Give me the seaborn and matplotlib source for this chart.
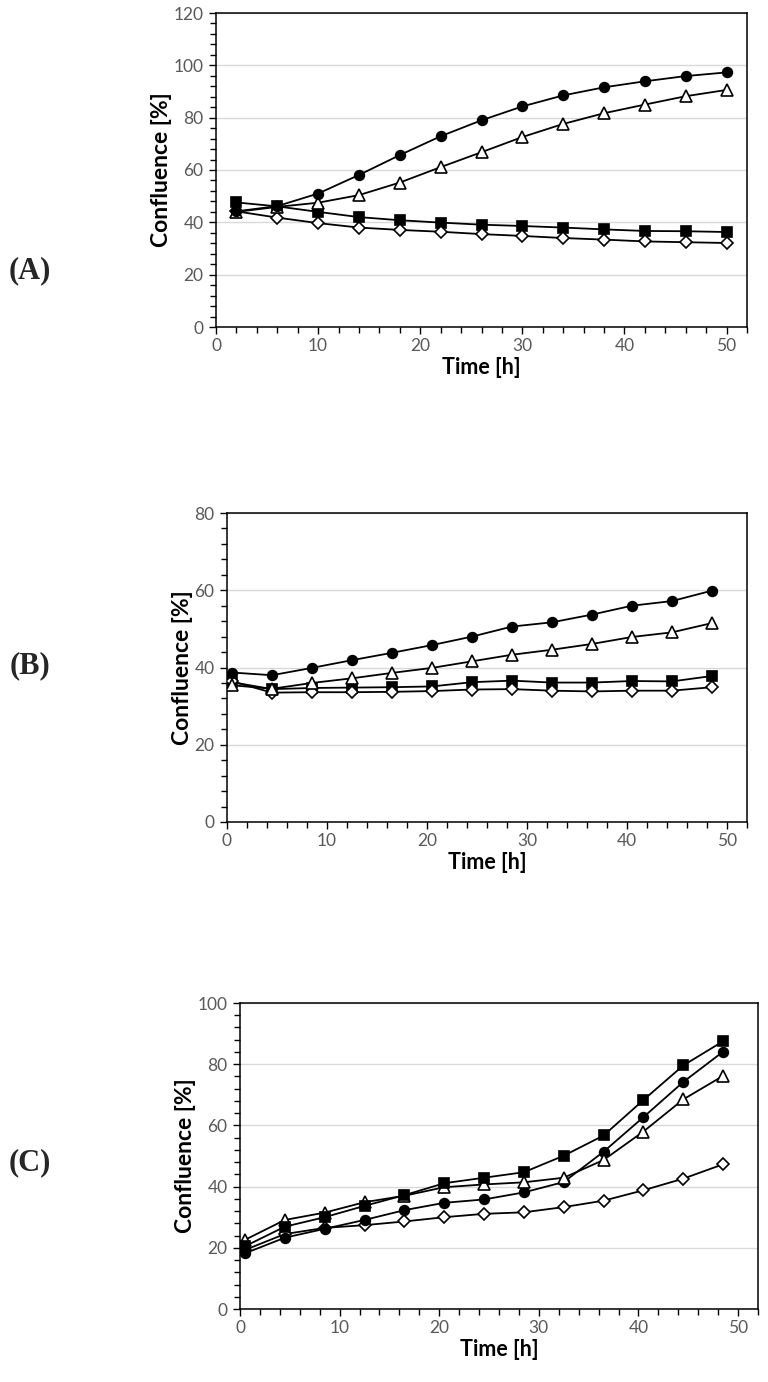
import numpy as np
import pandas as pd
import matplotlib
matplotlib.use("Agg")
import matplotlib.pyplot as plt
import seaborn as sns
from matplotlib.ticker import MultipleLocator

sns.set_theme(style="white")
plt.rcParams['font.family'] = ['Lato', 'DejaVu Sans']

# ---------------- data ----------------
time_A = [2, 6, 10, 14, 18, 22, 26, 30, 34, 38, 42, 46, 50]
A_circle = [44.2, 46.2, 51.0, 58.1, 65.7, 72.9, 79.0, 84.3, 88.5, 91.6, 93.9, 95.9, 97.3]
A_triangle = [44.0, 45.9, 47.5, 50.4, 55.2, 61.1, 66.8, 72.6, 77.6, 81.7, 85.0, 88.2, 90.6]
A_square = [47.6, 46.1, 44.0, 42.0, 40.8, 39.9, 39.1, 38.6, 38.0, 37.3, 36.7, 36.6, 36.3]
A_diamond = [44.2, 41.8, 39.7, 38.0, 37.1, 36.4, 35.5, 34.8, 34.0, 33.4, 32.7, 32.4, 32.1]

time_B = [0.5, 4.5, 8.5, 12.5, 16.5, 20.5, 24.5, 28.5, 32.5, 36.5, 40.5, 44.5, 48.5]
B_circle = [38.7, 38.0, 39.9, 41.9, 43.8, 45.8, 48.0, 50.6, 51.7, 53.7, 56.0, 57.2, 59.9]
B_triangle = [35.4, 34.5, 36.0, 37.2, 38.6, 39.9, 41.6, 43.3, 44.6, 46.1, 47.9, 49.1, 51.5]
B_square = [36.2, 34.4, 34.7, 34.8, 34.9, 35.1, 36.2, 36.6, 36.1, 36.1, 36.5, 36.4, 37.8]
B_diamond = [36.4, 33.5, 33.6, 33.6, 33.7, 33.9, 34.3, 34.4, 34.0, 33.8, 34.0, 34.0, 34.9]

time_C = [0.5, 4.5, 8.5, 12.5, 16.5, 20.5, 24.5, 28.5, 32.5, 36.5, 40.5, 44.5, 48.5]
C_square = [20.5, 26.9, 30.0, 33.7, 37.2, 41.1, 42.9, 44.7, 50.1, 56.7, 68.3, 79.6, 87.5]
C_circle = [18.2, 23.3, 26.2, 29.1, 32.3, 34.7, 35.8, 38.1, 41.5, 51.4, 62.7, 74.2, 84.1]
C_triangle = [22.6, 29.1, 31.5, 34.9, 37.0, 39.8, 40.7, 41.4, 42.9, 48.7, 58.0, 68.5, 76.2]
C_diamond = [19.3, 24.5, 26.5, 27.4, 28.6, 30.0, 31.1, 31.6, 33.3, 35.4, 38.8, 42.6, 47.3]

panel_labels = ["(A)", "(B)", "(C)"]
x_label = "Time [h]"
y_label = "Confluence [%]"
y_max = [120, 80, 100]

# ---------------- figure ----------------
W, H = 768, 1382
fig = plt.figure(figsize=(W / 100, H / 100), dpi=100)

def px_axes(left, right, top, bottom):
    return fig.add_axes([left / W, 1 - bottom / H, (right - left) / W, (bottom - top) / H])

boxes = [(216, 747, 13, 327), (227, 747, 513, 822), (240, 758, 1003, 1309)]
label_y = [271, 666, 1163]

styles = {
    "square": dict(marker="s", markerfacecolor="black", markersize=6.8),
    "circle": dict(marker="o", markerfacecolor="black", markersize=7.0),
    "triangle": dict(marker="^", markerfacecolor="white", markersize=9.0),
    "diamond": dict(marker="D", markerfacecolor="white", markersize=6.0),
}

panels = [
    (time_A, [("square", A_square), ("diamond", A_diamond), ("triangle", A_triangle), ("circle", A_circle)]),
    (time_B, [("square", B_square), ("diamond", B_diamond), ("triangle", B_triangle), ("circle", B_circle)]),
    (time_C, [("diamond", C_diamond), ("circle", C_circle), ("triangle", C_triangle), ("square", C_square)]),
]

grey = "#595959"
for i, (box, (tx, series)) in enumerate(zip(boxes, panels)):
    ax = px_axes(*box)
    for name, vals in series:
        df = pd.DataFrame({"t": tx, "v": vals})
        st = styles[name]
        sns.lineplot(data=df, x="t", y="v", ax=ax, color="black", linewidth=1.3,
                     sort=False, errorbar=None, marker=st["marker"],
                     markersize=st["markersize"], markerfacecolor=st["markerfacecolor"],
                     markeredgecolor="black", markeredgewidth=1.2, zorder=3)
    ax.set_xlim(0, 52)
    ax.set_ylim(0, y_max[i])
    ax.xaxis.set_major_locator(MultipleLocator(10))
    ax.xaxis.set_minor_locator(MultipleLocator(2))
    ax.yaxis.set_major_locator(MultipleLocator(20))
    ax.yaxis.set_minor_locator(MultipleLocator(4))
    ax.grid(axis="y", which="major", color="#d9d9d9", linewidth=1.0, zorder=0)
    ax.set_axisbelow(True)
    for sp in ax.spines.values():
        sp.set_visible(True)
        sp.set_color("black")
        sp.set_linewidth(1.1)
    ax.tick_params(axis="both", which="major", direction="out", length=5, width=1.0,
                   color="black", labelsize=12.5, labelcolor=grey, pad=4,
                   bottom=True, left=True, top=False, right=False)
    ax.tick_params(axis="x", which="major", pad=3)
    ax.tick_params(axis="both", which="minor", direction="out", length=4, width=1.0,
                   color="black", bottom=True, left=True, top=False, right=False)
    ax.set_xlabel(x_label, fontsize=15.5, fontweight="bold", color="black", labelpad=2)
    ax.set_ylabel(y_label, fontsize=16.5, fontweight="bold", color="black", labelpad=1)
    fig.text(30 / W, 1 - label_y[i] / H, panel_labels[i], ha="center", va="center",
             fontsize=22, fontweight="bold", family=["Liberation Serif", "DejaVu Serif"])

fig.savefig("out.png", dpi=100, facecolor="white")
